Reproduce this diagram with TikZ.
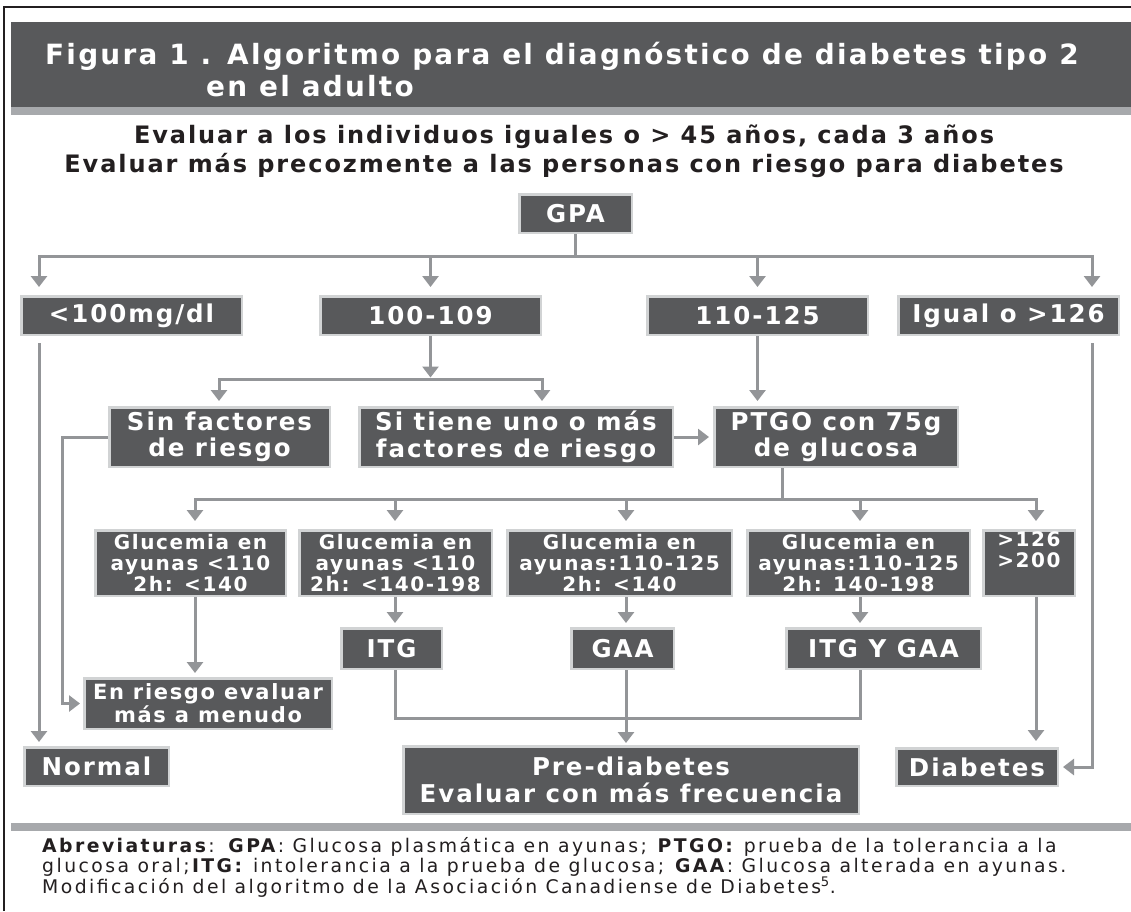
\documentclass[tikz,border=0pt]{standalone}
\usepackage{fontspec}
\setmainfont{DejaVu Sans}
\newfontfamily\vb[LetterSpace=8]{DejaVu Sans}
\newfontfamily\vf[LetterSpace=13]{DejaVu Sans}
\usetikzlibrary{arrows.meta}
\definecolor{boxfill}{HTML}{58595B}
\definecolor{boxedge}{HTML}{D1D3D4}
\definecolor{conn}{HTML}{939598}
\definecolor{strip}{HTML}{A7A9AC}
\definecolor{frame}{HTML}{231F20}
\begin{document}
\begin{tikzpicture}[x=1pt,y=-1pt,
  box/.style={fill=boxfill, draw=boxedge, line width=2.5pt, text=white, align=center, inner sep=0pt,
    font=\vb\bfseries\fontsize{24.5}{26.5}\selectfont},
  gbox/.style={box, font=\vb\bfseries\fontsize{20}{21}\selectfont},
  rbox/.style={box, font=\vb\bfseries\fontsize{21}{23}\selectfont},
  line/.style={draw=conn, line width=3pt},
  arr/.style={line, -{Triangle[width=16pt,length=11pt]}, shorten >=5pt},
  titletext/.style={anchor=base west, inner sep=0pt, text=white, font=\vb\bfseries\fontsize{27.9}{30}\selectfont},
  subtext/.style={anchor=base, inner sep=0pt, text=frame, font=\vb\bfseries\fontsize{24}{26}\selectfont},
  foottext/.style={anchor=base west, inner sep=0pt, text=frame, font=\vf\fontsize{18.8}{20}\selectfont},
]
\useasboundingbox (0,0) rectangle (1131,911);
\fill[white] (0,0) rectangle (1131,911);
% frame and bands
\draw[frame, line width=2.5pt] (4,911) -- (4,7) -- (1131,7);
\fill[boxfill] (11,22) rectangle (1131,107);
\fill[strip] (11,107) rectangle (1131,115);
\fill[strip] (11,823) rectangle (1131,831);
% title
\node[titletext] (t1) at (45,64) {Figura 1 . Algoritmo para el diagnóstico de diabetes tipo 2};
\node[titletext] (t2) at (206,96) {en el adulto};
\node[subtext] (s1) at (564,143) {Evaluar a los individuos iguales o > 45 años, cada 3 años};
\node[subtext] (s2) at (564,172) {Evaluar más precozmente a las personas con riesgo para diabetes};
% boxes
\node[box, minimum width=112.5, minimum height=38.5] (GPA) at (575.5,213.5) {GPA};
\node[box, minimum width=220.5, minimum height=38.5] (A) at (131.5,315.5) {<100mg/dl};
\node[box, minimum width=220.5, minimum height=38.5] (B) at (430.5,315.5) {100-109};
\node[box, minimum width=220.5, minimum height=38.5] (C) at (757.5,315.5) {110-125};
\node[box, minimum width=220.5, minimum height=38.5] (D) at (1008.5,315.5) {Igual o >126};
\node[box, minimum width=220.5, minimum height=59.5] (SF) at (219.5,437) {Sin factores\\de riesgo};
\node[box, minimum width=313.5, minimum height=59.5] (ST) at (516,437) {Si tiene uno o más\\factores de riesgo};
\node[box, minimum width=243.5, minimum height=59.5] (PT) at (836,437) {PTGO con 75g\\de glucosa};
\node[gbox, minimum width=190.5, minimum height=65.5] (G1) at (190.5,563) {Glucemia en\\ayunas <110\\2h: <140};
\node[gbox, minimum width=192.5, minimum height=65.5] (G2) at (395.5,563) {Glucemia en\\ayunas <110\\2h: <140-198};
\node[gbox, minimum width=224.5, minimum height=65.5] (G3) at (619.5,563) {Glucemia en\\ayunas:110-125\\2h: <140};
\node[gbox, minimum width=222.5, minimum height=65.5] (G4) at (858.5,563) {Glucemia en\\ayunas:110-125\\2h: 140-198};
\node[gbox, minimum width=91.5, minimum height=65.5] (G5) at (1029,563) {>126\\>200\\\strut};
\node[box, minimum width=100.5, minimum height=40.5] (ITG) at (391.5,648.5) {ITG};
\node[box, minimum width=102.5, minimum height=40.5] (GAA) at (622.5,648.5) {GAA};
\node[box, minimum width=194.5, minimum height=40.5] (IG) at (883.5,648.5) {ITG Y GAA};
\node[rbox, minimum width=247.5, minimum height=50.5] (ER) at (208,703.5) {En riesgo evaluar\\más a menudo};
\node[box, minimum width=144.5, minimum height=38.5] (N) at (96.5,766.5) {Normal};
\node[box, minimum width=455.5, minimum height=67.5] (PD) at (631,780) {Pre-diabetes\\Evaluar con más frecuencia};
\node[box, minimum width=161.5, minimum height=37.5] (DI) at (977,767) {Diabetes};
% connector coordinates
\coordinate (b1) at (39,256);
\coordinate (b4) at (1092,256);
\coordinate (s1c) at (219,379);
\coordinate (s2c) at (542,379);
\coordinate (p0) at (782,499);
\coordinate (g1) at (195,499);
\coordinate (g2) at (395,499);
\coordinate (g3) at (626,499);
\coordinate (g4) at (860,499);
\coordinate (g5) at (1036,499);
\coordinate (m2) at (395,718);
\coordinate (m4) at (860,718);
% connectors
\draw[line] (GPA.south) -- (GPA.south |- b1);
\draw[arr, shorten >=8pt] (b4) -- (b1) -- (b1 |- A.north);
\draw[arr, shorten >=8pt] (b1) -- (b4) -- (b4 |- D.north);
\draw[arr, shorten >=8pt] (B.north |- b1) -- (B.north);
\draw[arr, shorten >=8pt] (C.north |- b1) -- (C.north);
\draw[arr, shorten >=1.5pt] (B.south) -- (B.south |- s1c);
\draw[arr] (s2c) -- (s1c) -- (s1c |- SF.north);
\draw[arr] (s1c) -- (s2c) -- (s2c |- ST.north);
\draw[arr] (C.south) -- (C.south |- PT.north);
\draw[arr, shorten >=4pt] (ST.east) -- (PT.west);
\draw[arr, shorten >=3pt] (SF.west) -- ++(-46,0) |- (ER.west);
\draw[arr, shorten <=7pt, shorten >=4pt] (b1 |- A.south) -- (b1 |- N.north);
\draw[arr, shorten <=7pt, shorten >=4pt] (b4 |- D.south) |- (DI.east);
\draw[line] (p0 |- PT.south) -- (p0);
\draw[arr, shorten >=8pt] (g5) -- (g1) -- (g1 |- G1.north);
\draw[arr, shorten >=8pt] (g1) -- (g5) -- (g5 |- G5.north);
\draw[arr, shorten >=8pt] (g2) -- (g2 |- G2.north);
\draw[arr, shorten >=8pt] (g3) -- (g3 |- G3.north);
\draw[arr, shorten >=8pt] (g4) -- (g4 |- G4.north);
\draw[arr, shorten >=4pt] (g1 |- G1.south) -- (g1 |- ER.north);
\draw[arr, shorten >=4pt] (g2 |- G2.south) -- (g2 |- ITG.north);
\draw[arr, shorten >=4pt] (g3 |- G3.south) -- (g3 |- GAA.north);
\draw[arr, shorten >=4pt] (g4 |- G4.south) -- (g4 |- IG.north);
\draw[arr, shorten >=6pt] (g5 |- G5.south) -- (g5 |- DI.north);
\draw[line] (m2 |- ITG.south) -- (m2) -- (m4) -- (m4 |- IG.south);
\draw[arr, shorten >=2pt] (g3 |- GAA.south) -- (g3 |- PD.north);
% footer
\node[foottext] (f1) at (42,852) {\textbf{Abreviaturas}: \textbf{GPA}: Glucosa plasmática en ayunas; \textbf{PTGO:} prueba de la tolerancia a la};
\node[foottext] (f2) at (42,872.5) {glucosa oral;\textbf{ITG:} intolerancia a la prueba de glucosa; \textbf{GAA}: Glucosa alterada en ayunas.};
\node[foottext] (f3) at (42,893) {Modificación del algoritmo de la Asociación Canadiense de Diabetes\textsuperscript{5}.};
\end{tikzpicture}
\end{document}
